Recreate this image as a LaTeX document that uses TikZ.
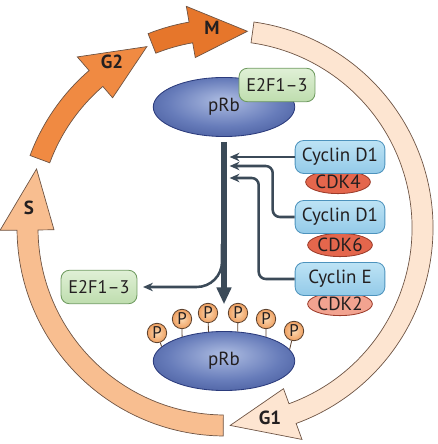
\documentclass[tikz,border=0pt]{standalone}
\usepackage{fontspec}
\setmainfont{PT Sans}
\usepackage{xcolor}
\usetikzlibrary{shapes.geometric, arrows.meta, calc}

\definecolor{gonecol}{HTML}{FDE5D1}
\definecolor{scol}{HTML}{F8BE90}
\definecolor{gtwocol}{HTML}{F08A42}
\definecolor{mcol}{HTML}{E6762B}
\definecolor{bandline}{HTML}{6E5444}
\definecolor{rbin}{HTML}{AEBDE2}
\definecolor{rbmid}{HTML}{677CBA}
\definecolor{rbout}{HTML}{34488C}
\definecolor{rbline}{HTML}{2B3B7C}
\definecolor{cyctop}{HTML}{BDE3F5}
\definecolor{cycbot}{HTML}{93CAE8}
\definecolor{cycline}{HTML}{4D93BD}
\definecolor{e2ftop}{HTML}{E0F0D6}
\definecolor{e2fbot}{HTML}{BEDDAE}
\definecolor{e2fline}{HTML}{6E9A5F}
\definecolor{cdkred}{HTML}{E4664C}
\definecolor{cdkline}{HTML}{9B3B2A}
\definecolor{cdklight}{HTML}{F2A390}
\definecolor{pin}{HTML}{FCD9B2}
\definecolor{pout}{HTML}{EFA061}
\definecolor{pline}{HTML}{5E4330}
\definecolor{wire}{HTML}{3B4A58}
\definecolor{ink}{HTML}{231F20}

\pgfdeclareradialshading{rbshade}{\pgfpoint{0bp}{6bp}}{color(0bp)=(rbin); color(20bp)=(rbmid); color(40bp)=(rbout); color(50bp)=(rbout)}

\tikzset{
  phase/.style={draw=bandline, line width=0.5pt},
  phaselabel/.style={font=\bfseries\fontsize{13.5}{16}\selectfont, text=ink},
  rb/.style={ellipse, draw=rbline, line width=0.6pt, shade, shading=rbshade, minimum width=100.6pt, minimum height=42pt, inner sep=0pt, font=\fontsize{13.5}{16}\selectfont, text=ink},
  e2f/.style={rectangle, rounded corners=6pt, draw=e2fline, line width=0.6pt, top color=e2ftop, bottom color=e2fbot, minimum width=54pt, minimum height=23.8pt, inner sep=0pt, font=\fontsize{13}{16}\selectfont, text=ink},
  cyc/.style={rectangle, rounded corners=6pt, draw=cycline, line width=0.6pt, top color=cyctop, bottom color=cycbot, minimum width=63.8pt, minimum height=23.4pt, inner sep=0pt, font=\fontsize{13.5}{16}\selectfont, text=ink},
  cdk/.style={ellipse, draw=cdkline, line width=0.6pt, fill=cdkred, minimum width=46pt, minimum height=16.5pt, inner sep=0pt, font=\fontsize{13.5}{16}\selectfont, text=ink},
  phos/.style={circle, draw=pline, line width=0.6pt, inner color=pin, outer color=pout, minimum size=13.8pt, inner sep=0pt, font=\fontsize{12}{14}\selectfont, text=ink},
  stem/.style={draw=pline, line width=0.6pt},
  link/.style={draw=wire, line width=1.8pt, -{Stealth[length=7pt, width=6pt]}, shorten >=4pt},
  mainline/.style={draw=wire, line width=3.6pt, -{Triangle[length=12pt, width=10pt]}}
}

\begin{document}
\begin{tikzpicture}[x=0.025cm, y=0.025cm]
\useasboundingbox (0,0) rectangle (437,444);

% Cell cycle ring
\begin{scope}[shift={(225,216)}]
\draw[phase, fill=gonecol] (82:208) arc[start angle=82, end angle=-70, radius=208] -- (-70:225) -- (-88.5:197.5) -- (-70:171) -- (-70:187) arc[start angle=-70, end angle=82, radius=187] -- cycle;
\draw[phase, fill=scol] (-90.5:208) arc[start angle=-90.5, end angle=-179.4, radius=208] -- (-179.4:225) -- (-197.4:197.5) -- (-179.4:171) -- (-179.4:187) arc[start angle=-179.4, end angle=-90.5, radius=187] -- cycle;
\draw[phase, fill=gtwocol] (159.6:208) arc[start angle=159.6, end angle=130.8, radius=208] -- (130.8:226) -- (113.3:197.5) -- (130.8:172) -- (130.8:187) arc[start angle=130.8, end angle=159.6, radius=187] -- cycle;
\draw[phase, fill=mcol] (111.6:209) arc[start angle=111.6, end angle=99.9, radius=209] -- (99.9:225) -- (83.5:198) -- (99.9:173) -- (99.9:188) arc[start angle=99.9, end angle=111.6, radius=188] -- cycle;
\end{scope}

\node[phaselabel] (lblG1) at (270,26) {G1};
\node[phaselabel] (lblS) at (29,236) {S};
\node[phaselabel] (lblG2) at (112,382) {G2};
\node[phaselabel] (lblM) at (212,416) {M};

% pRb with bound E2F1-3
\node[rb] (rb1) at (224,337) {pRb};
\node[e2f] (e2f1) at (277,359) {E2F1--3};

% Cyclin/CDK complexes
\node[cdk] (cdk4) at (338,262) {CDK4};
\node[cyc] (cycA) at (340,287) {Cyclin D1};
\node[cdk] (cdk6) at (340,199) {CDK6};
\node[cyc] (cycB) at (340,227) {Cyclin D1};
\node[cdk, fill=cdklight] (cdk2) at (340,140) {CDK2};
\node[cyc] (cycC) at (340,165) {Cyclin E};

% phosphorylated pRb
\node[rb] (rb2) at (224,83) {pRb};
\foreach \n/\x/\y/\a in {1/157/111/167, 2/182/125/150, 3/208/131/118, 4/238/131/65, 5/266/125/30, 6/294/113/10} {
    \node[phos] (p\n) at (\x,\y) {P};
    \draw[stem] (p\n) -- (rb2.\a);
}

% free E2F1-3
\node[e2f] (e2f2) at (99,157) {E2F1--3};

% arrows
\draw[mainline, shorten <=3.5pt, shorten >=19pt] (rb1) -- (rb2);
\coordinate (split) at (222,200);
\draw[link, rounded corners=18pt] (split) |- (e2f2.east);

\coordinate (inA) at (224,287);
\coordinate (inB) at (224,278);
\coordinate (inC) at (224,266);
\draw[link] (cycA.west) -- (inA);
\draw[link, rounded corners=5pt] (cycB.west) -- ++(-22,0) |- (inB);
\draw[link, rounded corners=5pt] (cycC.west) -- ++(-36,0) |- (inC);
\end{tikzpicture}
\end{document}
